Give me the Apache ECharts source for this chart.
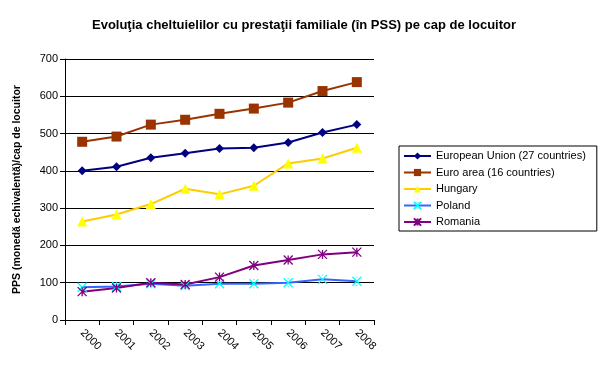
<!DOCTYPE html>
<html>
<head>
<meta charset="utf-8">
<script src="https://cdn.jsdelivr.net/npm/echarts@6/dist/echarts.min.js"></script>
<style>
html,body{margin:0;padding:0;background:#fff;}
#c{width:608px;height:391px;}
</style>
</head>
<body>
<div id="c"></div>
<script>
var years = ['2000','2001','2002','2003','2004','2005','2006','2007','2008'];
var eu = [400, 411, 435, 447, 460, 462, 476, 503, 524];
var euroArea = [478, 492, 524, 537, 553, 567, 583, 614, 638];
var hungary = [264, 283, 311, 352, 337, 360, 420, 433, 462];
var poland = [88, 90, 97, 92, 97, 97, 100, 109, 104];
var romania = [76, 86, 100, 95, 115, 146, 161, 176, 182];
var seriesNames = ['European Union (27 countries)', 'Euro area (16 countries)', 'Hungary', 'Poland', 'Romania'];

var FONT = '"Liberation Sans", Arial, sans-serif';
var chart = echarts.init(document.getElementById('c'), null, {renderer: 'canvas'});

function mk(name, data, lineColor, markColor, symbol, size, strokeOnly) {
  return {
    name: name, type: 'line', data: data,
    symbol: symbol, symbolSize: size,
    lineStyle: {color: lineColor, width: 2},
    itemStyle: strokeOnly ? {color: markColor, borderColor: markColor, borderWidth: 1.3} : {color: markColor, borderWidth: 0},
    emphasis: {disabled: true},
    animation: false
  };
}

chart.setOption({
  backgroundColor: '#ffffff',
  animation: false,
  title: {
    text: 'Evoluţia cheltuielilor cu prestaţii familiale (în PSS) pe cap de locuitor',
    left: 'center', top: 14,
    textStyle: {fontFamily: FONT, fontSize: 13, fontWeight: 'bold', color: '#000'}
  },
  legend: {
    orient: 'vertical', left: 399, top: 146,
    padding: [4, 11, 3, 4],
    itemGap: 4.5, itemWidth: 27, itemHeight: 9,
    itemTextGap: 2,
    borderColor: '#000', borderWidth: 1,
    backgroundColor: '#fff',
    textStyle: {fontFamily: FONT, fontSize: 11, color: '#000', lineHeight: 12},
    data: seriesNames
  },
  grid: {left: 65, right: 234, top: 59, bottom: 71, containLabel: false},
  xAxis: {
    type: 'category', data: years, boundaryGap: true,
    axisLine: {lineStyle: {color: '#000', width: 1}},
    axisTick: {show: true, inside: false, length: 5, lineStyle: {color: '#000'}, alignWithLabel: false},
    axisLabel: {rotate: -45, fontFamily: FONT, fontSize: 11, color: '#000', margin: 11},
    splitLine: {show: false}
  },
  yAxis: {
    type: 'value', min: 0, max: 700, interval: 100,
    name: 'PPS (monedă echivalentă)/cap de locuitor',
    nameLocation: 'middle', nameGap: 42, nameRotate: 90,
    nameTextStyle: {fontFamily: FONT, fontSize: 10.5, fontWeight: 'bold', color: '#000'},
    axisLine: {show: true, lineStyle: {color: '#000', width: 1}},
    axisTick: {show: true, inside: false, length: 5, lineStyle: {color: '#000'}},
    axisLabel: {fontFamily: FONT, fontSize: 11, color: '#000', margin: 7},
    splitLine: {show: true, lineStyle: {color: '#000', width: 1}}
  },
  series: [
    mk(seriesNames[0], eu, '#000080', '#000080', 'diamond', 9, false),
    mk(seriesNames[1], euroArea, '#993300', '#993300', 'rect', 10, false),
    mk(seriesNames[2], hungary, '#FFCC00', '#FFFF00', 'triangle', 10, false),
    mk(seriesNames[3], poland, '#3366FF', '#00FFFF', 'path://M0,0L10,10M10,0L0,10M5,0L5,1M5,9L5,10', 9, true),
    mk(seriesNames[4], romania, '#800080', '#800080', 'path://M0,0L10,10M10,0L0,10M5,0L5,10', 9, true)
  ]
});
</script>
</body>
</html>
